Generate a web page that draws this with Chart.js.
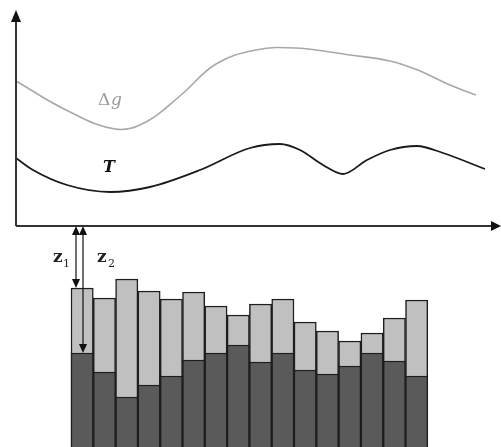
<!DOCTYPE html>
<html lang="en">
<head>
  <meta charset="UTF-8" />
  <title>Gravity and topography over layered blocks</title>
  <script src="https://cdn.jsdelivr.net/npm/chart.js"></script>
  <style>
    * { margin: 0; padding: 0; box-sizing: border-box; }
    html, body { width: 501px; height: 447px; background: #fff; overflow: hidden; }
    #chart { display: block; }
  </style>
</head>
<body>
  <canvas id="chart" width="501" height="447"></canvas>

  <script>
    /* ---------- data ---------- */
    // Delta g curve (distance along profile, value above the axis)
    const gX = [0, 50, 99, 130, 165, 200, 240, 280, 334, 374, 404, 434, 460];
    const gY = [145, 116, 97, 104, 131, 162, 176, 178, 171, 165, 155, 141, 131];
    // T curve
    const tX = [0, 17, 51, 94, 134, 184, 234, 264, 284, 307, 327, 351, 374, 401, 427, 469];
    const tY = [68, 56, 41, 34, 39, 56, 78, 82, 76, 61, 52, 66, 76, 80, 73, 57];
    // blocks: depth to top of upper layer (z1) and lower layer (z2)
    const blocks = [1, 2, 3, 4, 5, 6, 7, 8, 9, 10, 11, 12, 13, 14, 15, 16];
    const z1 = [62, 72, 53, 65, 73, 66, 80, 89, 78, 73, 96, 105, 115, 107, 92, 74];
    const z2 = [127, 146, 171, 159, 150, 134, 127, 119, 136, 127, 144, 148, 140, 127, 135, 150];
    const blockBase = -240;   // blocks continue below the picture

    const pts = (xs, ys) => xs.map((x, i) => ({ x: x, y: ys[i] }));
    const upper = blocks.map((b, i) => ({ x: i, y: [blockBase, -z1[i]] }));
    const lower = blocks.map((b, i) => ({ x: i, y: [blockBase, -z2[i]] }));

    /* ---------- axes, arrows and labels ---------- */
    function arrowHead(ctx, x, y, dir, w, h) {
      // dir: 'up', 'down', 'right'
      ctx.beginPath();
      if (dir === 'up') { ctx.moveTo(x, y); ctx.lineTo(x - w, y + h); ctx.lineTo(x + w, y + h); }
      if (dir === 'down') { ctx.moveTo(x, y); ctx.lineTo(x - w, y - h); ctx.lineTo(x + w, y - h); }
      if (dir === 'right') { ctx.moveTo(x, y); ctx.lineTo(x - h, y - w); ctx.lineTo(x - h, y + w); }
      ctx.closePath();
      ctx.fill();
    }

    const schematic = {
      id: 'schematic',
      afterDatasetsDraw(chart) {
        const ctx = chart.ctx;
        const sx = chart.scales.x, sy = chart.scales.y;
        const X = v => sx.getPixelForValue(v);
        const Y = v => sy.getPixelForValue(v);
        ctx.save();

        // main axes
        ctx.strokeStyle = '#333';
        ctx.fillStyle = '#111';
        ctx.lineWidth = 2;
        ctx.beginPath();
        ctx.moveTo(X(0), Y(0));
        ctx.lineTo(X(0), Y(208));
        ctx.moveTo(X(0), Y(0));
        ctx.lineTo(X(478), Y(0));
        ctx.stroke();
        arrowHead(ctx, X(0), Y(216), 'up', 5, 12);
        arrowHead(ctx, X(485), Y(0), 'right', 5, 10);

        // depth arrows z1, z2 (to the first block)
        ctx.lineWidth = 1.2;
        ctx.strokeStyle = '#111';
        [[60, z1[0]], [67, z2[0]]].forEach(([ax, d]) => {
          ctx.beginPath();
          ctx.moveTo(X(ax), Y(-6));
          ctx.lineTo(X(ax), Y(-d + 6));
          ctx.stroke();
          arrowHead(ctx, X(ax), Y(0), 'up', 4, 9);
          arrowHead(ctx, X(ax), Y(-d), 'down', 4, 9);
        });

        // z labels
        ctx.fillStyle = '#222';
        ctx.textBaseline = 'alphabetic';
        ctx.font = 'bold 17px "DejaVu Serif"';
        ctx.fillText('z', X(37), Y(-36));
        ctx.fillText('z', X(81), Y(-36));
        ctx.font = '11px "DejaVu Serif"';
        ctx.fillText('1', X(47), Y(-41));
        ctx.fillText('2', X(92), Y(-41));

        // curve labels
        ctx.fillStyle = '#999';
        ctx.font = '17px "DejaVu Serif"';
        ctx.fillText('\u0394', X(82), Y(121));
        ctx.font = 'italic 17px "DejaVu Serif"';
        ctx.fillText('g', X(95), Y(121));
        ctx.fillStyle = '#111';
        ctx.font = 'italic bold 16px "DejaVu Serif"';
        ctx.fillText('T', X(87), Y(54));

        ctx.restore();
      }
    };

    new Chart(document.getElementById('chart'), {
      type: 'bar',
      data: {
        datasets: [
          {
            type: 'line', label: '\u0394g', data: pts(gX, gY),
            xAxisID: 'x', yAxisID: 'y', order: 0,
            borderColor: '#a8a8a8', borderWidth: 1.6, pointRadius: 0,
            fill: false, tension: 0.4
          },
          {
            type: 'line', label: 'T', data: pts(tX, tY),
            xAxisID: 'x', yAxisID: 'y', order: 0,
            borderColor: '#1a1a1a', borderWidth: 1.8, pointRadius: 0,
            fill: false, cubicInterpolationMode: 'monotone'
          },
          {
            label: 'lower layer', data: lower,
            xAxisID: 'xb', yAxisID: 'y', order: 1, grouped: false,
            backgroundColor: '#5a5a5a', borderColor: '#1e1e1e', borderWidth: 1.5,
            borderSkipped: false, barPercentage: 1, categoryPercentage: 1
          },
          {
            label: 'upper layer', data: upper,
            xAxisID: 'xb', yAxisID: 'y', order: 2, grouped: false,
            backgroundColor: '#c0c0c0', borderColor: '#1e1e1e', borderWidth: 1.5,
            borderSkipped: false, barPercentage: 1, categoryPercentage: 1
          }
        ]
      },
      options: {
        responsive: false,
        animation: false,
        layout: { padding: 0 },
        plugins: { legend: { display: false }, tooltip: { enabled: false } },
        scales: {
          x: { type: 'linear', display: false, min: -16, max: 485, offset: false },
          xb: { type: 'linear', display: false, min: -3.684, max: 18.782, offset: false },
          y: { type: 'linear', display: false, min: -221, max: 226, offset: false }
        }
      },
      plugins: [schematic]
    });
  </script>
</body>
</html>
